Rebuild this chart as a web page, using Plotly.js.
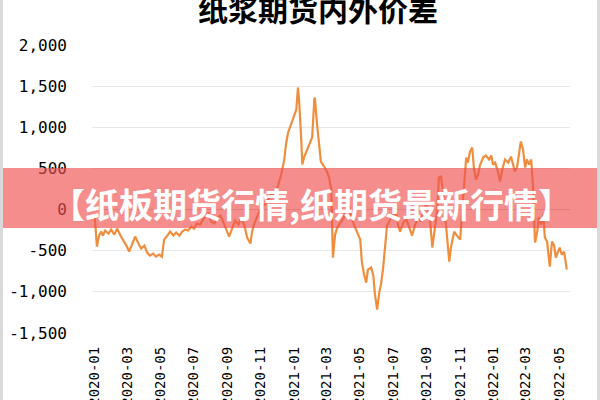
<!DOCTYPE html>
<html>
<head>
<meta charset="utf-8">
<script src="https://cdn.plot.ly/plotly-3.0.1.min.js"></script>
<style>
html,body{margin:0;padding:0;background:#fff;}
#chart{width:600px;height:400px;}
</style>
</head>
<body>
<div id="chart"></div>
<script>
const chartTitle = "纸浆期货内外价差";
const bannerText = "【纸板期货行情,纸期货最新行情】";

const dates = [
"2020-01-02","2020-01-05","2020-01-06","2020-01-10","2020-01-14","2020-01-17","2020-01-21","2020-01-27",
"2020-02-01","2020-02-07","2020-02-12","2020-02-18","2020-02-23","2020-02-29","2020-03-05","2020-03-11",
"2020-03-16","2020-03-22","2020-03-27","2020-04-02","2020-04-07","2020-04-12","2020-04-18","2020-04-23",
"2020-04-29","2020-05-04","2020-05-08","2020-05-14","2020-05-19","2020-05-25","2020-05-30","2020-06-05",
"2020-06-10","2020-06-16","2020-06-21","2020-06-27","2020-07-02","2020-07-07","2020-07-13","2020-07-18",
"2020-07-24","2020-07-28","2020-08-02","2020-08-08","2020-08-13","2020-08-19","2020-08-24","2020-08-30",
"2020-09-04","2020-09-10","2020-09-15","2020-09-21","2020-09-26","2020-10-02","2020-10-07","2020-10-13",
"2020-10-16","2020-10-20","2020-10-25","2020-10-31","2020-11-05","2020-11-11","2020-11-16","2020-11-22",
"2020-11-27","2020-12-03","2020-12-08","2020-12-14","2020-12-17","2020-12-21","2020-12-25","2020-12-28",
"2021-01-01","2021-01-05","2021-01-08","2021-01-10","2021-01-14","2021-01-16","2021-01-19","2021-01-25",
"2021-01-30","2021-02-03","2021-02-07","2021-02-08","2021-02-12","2021-02-16","2021-02-19","2021-02-25",
"2021-03-02","2021-03-06","2021-03-10","2021-03-13","2021-03-17","2021-03-21","2021-03-26","2021-04-01",
"2021-04-06","2021-04-12","2021-04-15","2021-04-21","2021-04-26","2021-05-02","2021-05-05","2021-05-09",
"2021-05-13","2021-05-16","2021-05-22","2021-05-26","2021-05-29","2021-06-02","2021-06-06","2021-06-09",
"2021-06-13","2021-06-17","2021-06-20","2021-06-26","2021-07-01","2021-07-07","2021-07-10","2021-07-14",
"2021-07-19","2021-07-25","2021-07-30","2021-08-05","2021-08-10","2021-08-16","2021-08-21","2021-08-27",
"2021-09-01","2021-09-07","2021-09-11","2021-09-14","2021-09-20","2021-09-23","2021-09-27","2021-10-01",
"2021-10-04","2021-10-08","2021-10-12","2021-10-15","2021-10-21","2021-10-26","2021-11-01","2021-11-04",
"2021-11-08","2021-11-12","2021-11-15","2021-11-19","2021-11-23","2021-11-26","2021-11-30","2021-12-04",
"2021-12-07","2021-12-13","2021-12-18","2021-12-24","2021-12-28","2021-12-31","2022-01-04","2022-01-09",
"2022-01-13","2022-01-17","2022-01-22","2022-01-28","2022-02-02","2022-02-06","2022-02-09","2022-02-13",
"2022-02-17","2022-02-20","2022-02-24","2022-02-28","2022-03-03","2022-03-07","2022-03-11","2022-03-14",
"2022-03-18","2022-03-22","2022-03-25","2022-03-29","2022-04-02","2022-04-05","2022-04-09","2022-04-13",
"2022-04-14","2022-04-18","2022-04-22","2022-04-25","2022-04-29","2022-05-02","2022-05-06","2022-05-10",
"2022-05-13","2022-05-15"
];

const spread = [
-85,-365,-450,-316,-268,-316,-255,-292,
-243,-304,-231,-316,-365,-438,-511,-401,
-328,-413,-474,-438,-523,-559,-535,-572,
-547,-572,-365,-316,-268,-316,-280,-316,
-268,-243,-255,-207,-231,-170,-182,-122,
-73,-36,-146,-170,-109,-73,-146,-243,
-328,-219,-134,-182,-97,-195,-340,-413,
-268,-170,-85,0,36,85,146,207,
170,316,413,608,790,936,1009,1082,
1143,1216,1484,1338,851,547,632,730,
827,876,1338,1362,1034,730,584,523,
462,389,243,-584,-304,-219,-170,-109,
-24,49,-61,-195,-268,-365,-632,-790,
-888,-730,-705,-803,-1034,-1216,-997,-912,
-705,-365,-195,-122,-73,-49,-182,-268,
-170,-109,-195,-316,-195,-97,-146,24,
61,-146,-462,-304,0,389,401,182,
-36,-365,-632,-462,-268,-316,-365,-61,
304,632,571,705,754,511,365,426,
535,632,657,608,657,547,571,462,
340,486,608,571,644,547,462,511,
730,827,730,511,608,547,608,304,
-401,-268,-97,-182,-61,-340,-389,-608,
-693,-389,-438,-584,-511,-462,-547,-511,
-632,-730
];

const yTicks = [-1500,-1000,-500,0,500,1000,1500,2000];
const yTickText = ["-1,500","-1,000","-500","0","500","1,000","1,500","2,000"];

const L = 92, R = 570, T = 45, B = 333, W = 600, H = 400;
const px = x => (x - L) / (R - L);
const py = y => (B - y) / (B - T);

const trace = {
  x: dates,
  y: spread,
  type: "scatter",
  mode: "lines",
  line: {color: "#EF8E3E", width: 2.2},
  hoverinfo: "x+y"
};

const layout = {
  width: W, height: H,
  margin: {l: L, r: W - R, t: T, b: H - B, pad: 0},
  paper_bgcolor: "#ffffff",
  plot_bgcolor: "#ffffff",
  showlegend: false,
  title: {
    text: chartTitle,
    x: 318 / W, xanchor: "center",
    y: 1 - 10 / H, yanchor: "middle", yref: "container",
    font: {family: "Noto Sans CJK SC", size: 30, color: "#000000", weight: 700}
  },
  xaxis: {
    type: "date",
    range: ["2019-12-28", "2022-05-21"],
    tickmode: "linear",
    tick0: "2020-01-01",
    dtick: "M2",
    tickformat: "%Y-%m",
    tickangle: -90,
    ticks: "",
    ticklabelstandoff: 10,
    showgrid: false,
    showline: false,
    zeroline: false,
    tickfont: {family: "DejaVu Sans Mono", size: 14, color: "#000000"}
  },
  yaxis: {
    range: [-1500, 2000],
    tickmode: "array",
    tickvals: yTicks,
    ticktext: yTickText,
    ticks: "",
    ticklabelstandoff: 24,
    showgrid: true,
    gridcolor: "#E8E8E8",
    gridwidth: 1,
    zeroline: true,
    zerolinecolor: "#C8C8C8",
    zerolinewidth: 1,
    showline: false,
    tickfont: {family: "DejaVu Sans Mono", size: 16, color: "#000000"}
  },
  shapes: [
    {type: "rect", xref: "paper", yref: "paper", layer: "above",
     x0: px(0), x1: px(W), y0: py(228), y1: py(168),
     fillcolor: "rgba(240,80,80,0.65)", line: {width: 0}},
    {type: "rect", xref: "paper", yref: "paper", layer: "above",
     x0: px(0), x1: px(3), y0: py(H), y1: py(0),
     fillcolor: "#D9D9D9", line: {width: 0}},
    {type: "rect", xref: "paper", yref: "paper", layer: "above",
     x0: px(597), x1: px(W), y0: py(H), y1: py(0),
     fillcolor: "#D9D9D9", line: {width: 0}}
  ],
  annotations: [
    {text: bannerText, xref: "paper", yref: "paper",
     x: px(311), y: py(204), xanchor: "center", yanchor: "middle",
     showarrow: false,
     font: {family: "Noto Sans CJK SC", size: 34, color: "#ffffff", weight: 700}}
  ]
};

Plotly.newPlot("chart", [trace], layout, {displayModeBar: false, staticPlot: true});
</script>
</body>
</html>
